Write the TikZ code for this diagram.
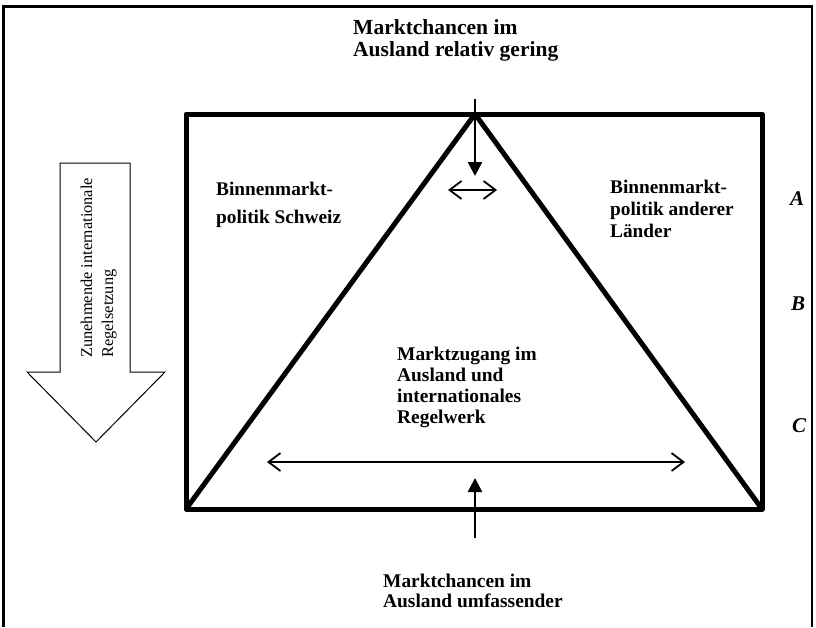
\documentclass[tikz,border=0pt]{standalone}
\usepackage{fontspec}
\setmainfont{Liberation Serif}
\usetikzlibrary{arrows.meta}
\tikzset{heavy/.style={line width=5pt,line join=round},push/.style={-{Triangle[length=14pt,width=14pt]},line width=2.5pt},spread/.style={{Straight Barb[length=12pt,width=18pt]}-{Straight Barb[length=12pt,width=18pt]},line width=1.8pt},note/.style={anchor=base west,inner sep=0pt,align=left,font=\bfseries\fontsize{19.4}{21}\selectfont},corner/.style={anchor=base west,inner sep=0pt,font=\bfseries\itshape\fontsize{21}{21}\selectfont}}

\begin{document}
\begin{tikzpicture}[x=1pt,y=-1pt]
\useasboundingbox (0,0) rectangle (816,627);
\draw[line width=2.5pt] (3.5,627) -- (3.5,6.5) -- (812,6.5) -- (812,627);
\coordinate (tl) at (186,114);\coordinate (br) at (762,509);\coordinate (bl) at (186,509);\coordinate (apex) at (475,114);
\draw[heavy] (tl) rectangle (br);\draw[heavy] (bl) -- (apex) -- (br);
\coordinate (intop) at (475,99);\coordinate (inbot) at (475,176);\coordinate (outtop) at (475,538);\coordinate (outbot) at (475,478);
\draw[push] (intop) -- (inbot);\draw[push] (outtop) -- (outbot);
\coordinate (sl) at (448,190);\coordinate (sr) at (497,190);\coordinate (wl) at (267,462);\coordinate (wr) at (685,462);
\draw[spread] (sl) -- (sr);\draw[spread] (wl) -- (wr);
% base of a multi-line note = baseline of its last line
\node[note,font=\bfseries\fontsize{21.5}{22}\selectfont] (topnote) at (353,56) {Marktchancen im\\Ausland relativ gering};
\node[note,font=\bfseries\fontsize{19.4}{20}\selectfont] (botnote) at (383,607) {Marktchancen im\\Ausland umfassender};
\node[note,font=\bfseries\fontsize{19.3}{28}\selectfont] (swiss) at (216,223) {Binnenmarkt-\\politik Schweiz};
\node[note,font=\bfseries\fontsize{19.3}{22}\selectfont] (others) at (610,237) {Binnenmarkt-\\politik anderer\\Länder};
\node[note] (access) at (397,423) {Marktzugang im\\Ausland und\\internationales\\Regelwerk};
\node[corner] (lA) at (790,205) {A};\node[corner] (lB) at (791,310) {B};\node[corner] (lC) at (792,432) {C};
% hollow arrow on the left
\draw[line width=1pt] (60,163) -- (130,163) -- (130,372) -- (165,372) -- (96,442) -- (27,372) -- (60,372) -- cycle;
\node[rotate=90,anchor=base west,inner sep=0pt,align=left,font=\fontsize{16.4}{21}\selectfont] (trend) at (113,358) {Zunehmende internationale\\Regelsetzung};
\end{tikzpicture}
\end{document}
